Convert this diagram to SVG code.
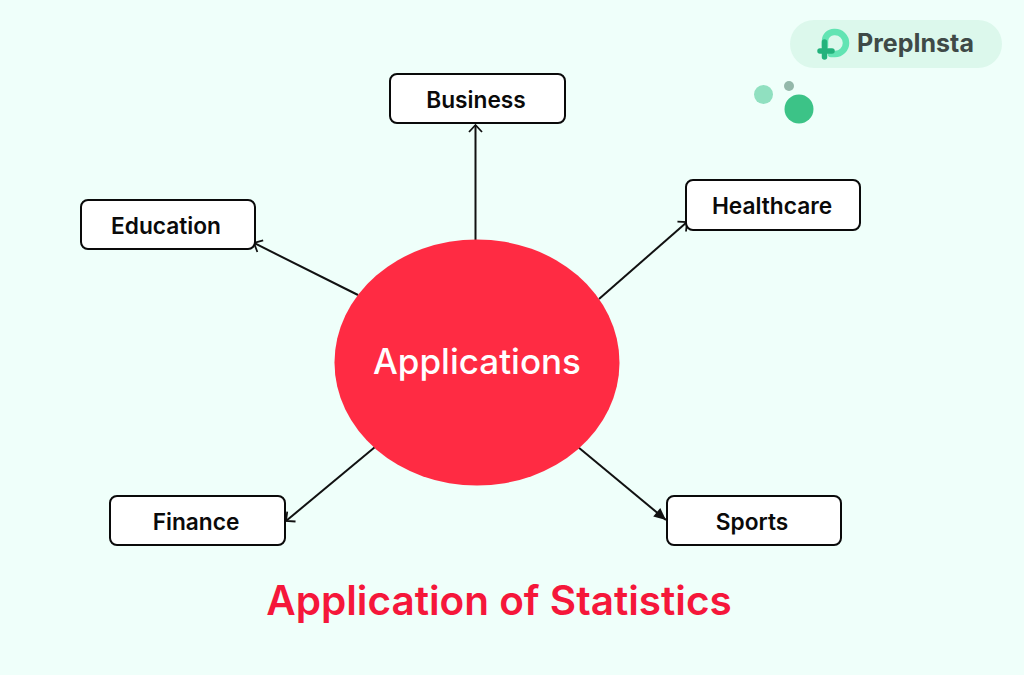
<svg xmlns="http://www.w3.org/2000/svg" width="1024" height="675" viewBox="0 0 1024 675">
<defs>
<marker id="open" markerUnits="userSpaceOnUse" markerWidth="16" markerHeight="16" refX="14" refY="8" orient="auto"><path d="M7 1.500L14 8L7 14.500" fill="none" stroke="#111" stroke-width="1.800"/></marker>
<marker id="solid" markerUnits="userSpaceOnUse" markerWidth="16" markerHeight="16" refX="13" refY="7" orient="auto"><path d="M1 1.500L13 7L1 12.500Z" fill="#111"/></marker>
</defs>
<style>
text{font-family:Inter,"Liberation Sans",sans-serif;text-anchor:middle}
.box{fill:#fff;stroke:#0a0a0a;stroke-width:2}
.lbl{font-size:22.700px;font-weight:600;fill:#0a0a0a}
.c{fill:none;stroke:#111;stroke-width:2}
</style>
<rect width="1024" height="675" fill="#effffa"/>
<g id="logo">
<rect x="790" y="20" width="212" height="48" rx="24" fill="#dcf8ec"/>
<path d="M825 46V41A9 9 0 0 1 834 32H835A11 11 0 0 1 835 54H831" fill="none" stroke="#62e4b3" stroke-width="6.500" stroke-linecap="round"/>
<path d="M824.500 42V57M820 51H832" fill="none" stroke="#23b27c" stroke-width="5.500" stroke-linecap="round"/>
<text x="915.500" y="52" style="font-size:25px;font-weight:700;fill:#3f4a47">PrepInsta</text>
</g>
<g id="dots">
<circle cx="763.500" cy="94.500" r="9.500" fill="#90e0c0"/>
<circle cx="789" cy="86" r="5" fill="#94b8aa"/>
<circle cx="799" cy="109" r="14.500" fill="#3cc387"/>
</g>
<g id="connectors">
<path class="c" d="M475.500 240V125" marker-end="url(#open)"/>
<path class="c" d="M358 295L254 243" marker-end="url(#open)"/>
<path class="c" d="M599 299L687 222" marker-end="url(#open)"/>
<path class="c" d="M375 447L286 521" marker-end="url(#open)"/>
<path class="c" d="M578 447L666 520" marker-end="url(#solid)"/>
</g>
<g id="center"><ellipse cx="477" cy="362.500" rx="142.500" ry="123" fill="#ff2b43"/><text x="477" y="374" style="font-size:35px;font-weight:500;fill:#fff">Applications</text></g>
<g id="business"><rect class="box" x="390" y="74" width="175" height="49" rx="7"/><text class="lbl" x="476" y="107.500">Business</text></g>
<g id="education"><rect class="box" x="81" y="200" width="174" height="49" rx="7"/><text class="lbl" x="166" y="233.500">Education</text></g>
<g id="healthcare"><rect class="box" x="686" y="180" width="174" height="50" rx="7"/><text class="lbl" x="772" y="213.500">Healthcare</text></g>
<g id="finance"><rect class="box" x="110" y="496" width="175" height="49" rx="7"/><text class="lbl" x="196" y="529.500">Finance</text></g>
<g id="sports"><rect class="box" x="667" y="496" width="174" height="49" rx="7"/><text class="lbl" x="752" y="529.500">Sports</text></g>
<text id="title" x="499" y="615" style="font-size:40.500px;font-weight:600;fill:#f5173a">Application of Statistics</text>
</svg>
